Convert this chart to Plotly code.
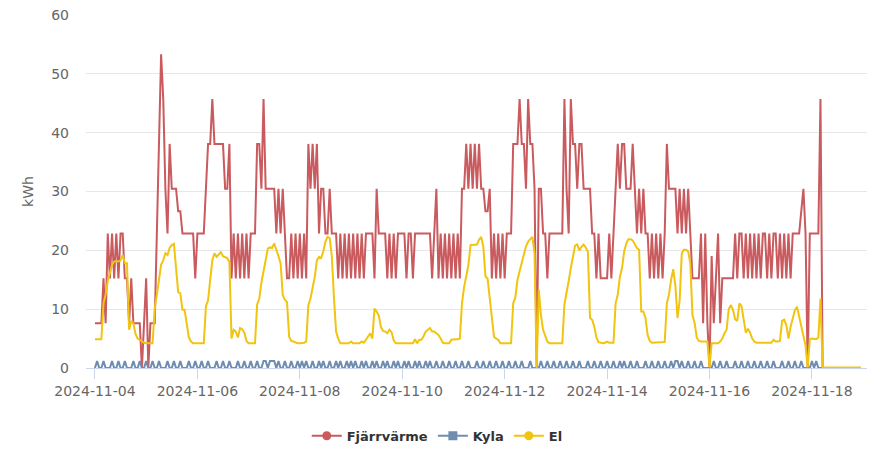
import plotly.graph_objects as go
import pandas as pd

# ---------------- data (hourly, 2024-11-04 00:00 .. 2024-11-18 23:00) ----------------
start_time = "2024-11-04 00:00"
n_hours = 360

fjarrvarme_days = [
    [7.62,7.62,7.62,7.62,15.24,7.62,22.86,15.24,22.86,15.24,22.86,15.24,22.86,22.86,15.24,15.24,7.62,15.24,7.62,7.62,7.62,7.62,0,7.62],
    [15.24,0,7.62,7.62,7.62,22.86,38.1,53.34,45.72,30.48,22.86,38.1,30.48,30.48,30.48,26.67,26.67,22.86,22.86,22.86,22.86,22.86,22.86,15.24],
    [22.86,22.86,22.86,22.86,30.48,38.1,38.1,45.72,38.1,38.1,38.1,38.1,38.1,30.48,30.48,38.1,15.24,22.86,15.24,22.86,15.24,22.86,15.24,22.86],
    [15.24,22.86,22.86,22.86,38.1,38.1,30.48,45.72,30.48,30.48,30.48,30.48,30.48,22.86,30.48,22.86,30.48,22.86,15.24,15.24,22.86,15.24,22.86,15.24],
    [22.86,15.24,22.86,15.24,38.1,30.48,38.1,30.48,38.1,22.86,30.48,30.48,22.86,22.86,30.48,22.86,22.86,22.86,15.24,22.86,15.24,22.86,15.24,22.86],
    [15.24,22.86,15.24,22.86,15.24,22.86,15.24,22.86,22.86,22.86,22.86,15.24,30.48,22.86,22.86,22.86,22.86,15.24,22.86,15.24,22.86,15.24,22.86,22.86],
    [22.86,22.86,15.24,22.86,22.86,15.24,22.86,22.86,22.86,22.86,22.86,22.86,22.86,22.86,15.24,22.86,30.48,15.24,22.86,15.24,22.86,15.24,22.86,15.24],
    [22.86,15.24,22.86,15.24,30.48,30.48,38.1,30.48,38.1,30.48,38.1,30.48,38.1,30.48,30.48,26.67,26.67,30.48,15.24,22.86,15.24,22.86,15.24,22.86],
    [15.24,22.86,22.86,22.86,38.1,38.1,38.1,45.72,38.1,38.1,30.48,45.72,38.1,38.1,30.48,0,30.48,30.48,22.86,22.86,15.24,22.86,22.86,22.86],
    [22.86,22.86,22.86,22.86,45.72,30.48,22.86,45.72,38.1,38.1,30.48,38.1,38.1,30.48,30.48,30.48,30.48,22.86,22.86,15.24,22.86,15.24,15.24,15.24],
    [15.24,22.86,15.24,22.86,30.48,38.1,30.48,38.1,38.1,30.48,30.48,30.48,38.1,30.48,22.86,30.48,22.86,30.48,22.86,22.86,15.24,22.86,15.24,22.86],
    [15.24,22.86,15.24,22.86,38.1,30.48,30.48,30.48,30.48,22.86,30.48,22.86,30.48,22.86,30.48,22.86,15.24,15.24,15.24,15.24,22.86,7.62,22.86,7.62],
    [0,19.05,7.62,15.24,22.86,7.62,15.24,15.24,15.24,15.24,15.24,15.24,22.86,15.24,22.86,22.86,15.24,22.86,15.24,22.86,15.24,22.86,15.24,22.86],
    [15.24,22.86,22.86,15.24,22.86,15.24,22.86,22.86,15.24,22.86,15.24,22.86,15.24,22.86,15.24,22.86,22.86,22.86,22.86,26.67,30.48,22.86,0,22.86],
    [22.86,22.86,22.86,22.86,45.72,0,0,0,0,0,0,0,0,0,0,0,0,0,0,0,0,0,0,0],
]

kyla_days = [
    [0,1.2,0,0,1.2,0,0,0,1.2,0,0,1.2,0,0,1.2,0,0,0,1.2,0,0,1.2,0,0],
    [1.2,0,0,1.2,0,0,1.2,0,0,0,1.2,0,0,1.2,0,0,1.2,0,0,0,1.2,0,0,1.2],
    [0,0,1.2,0,0,1.2,0,0,0,1.2,0,0,1.2,0,0,1.2,0,0,0,1.2,0,0,1.2,0],
    [0,1.2,0,0,1.2,0,0,1.2,1.2,0,1.2,1.2,1.2,0,1.2,0,0,1.2,0,0,1.2,0,0,1.2],
    [0,1.2,0,1.2,0,0,1.2,0,0,1.2,0,1.2,0,0,1.2,0,0,1.2,0,1.2,0,0,1.2,0],
    [1.2,0,1.2,0,0,1.2,0,1.2,0,0,1.2,0,1.2,0,0,1.2,0,1.2,0,0,1.2,0,1.2,0],
    [0,1.2,0,1.2,0,0,1.2,0,1.2,0,0,1.2,0,1.2,0,0,1.2,0,0,1.2,0,0,1.2,0],
    [0,1.2,0,0,1.2,0,0,1.2,0,0,0,1.2,0,0,1.2,0,0,1.2,0,0,1.2,0,0,1.2],
    [0,0,1.2,0,0,1.2,0,0,1.2,0,0,0,1.2,0,0,0,0,1.2,0,0,1.2,0,0,1.2],
    [0,0,1.2,0,0,1.2,0,0,1.2,0,0,1.2,0,0,0,1.2,0,0,1.2,0,0,1.2,0,0],
    [1.2,0,0,1.2,0,0,1.2,0,1.2,0,0,1.2,0,0,1.2,0,0,0,1.2,0,0,1.2,0,0],
    [1.2,0,0,1.2,0,0,1.2,0,1.2,1.2,0,1.2,0,0,1.2,0,0,1.2,0,0,1.2,0,0,0],
    [0,0,1.2,0,0,1.2,0,0,1.2,0,0,0,1.2,0,0,1.2,0,0,1.2,0,0,1.2,0,0],
    [1.2,0,0,1.2,0,0,1.2,0,0,0,1.2,0,0,1.2,0,0,1.2,0,0,1.2,0,0,0,0],
    [1.2,0,1.2,0,0,0,0,0,0,0,0,0,0,0,0,0,0,0,0,0,0,0,0,0],
]

el_days = [
    [4.9,4.9,4.9,4.9,11.0,12.5,14.8,16.2,17.5,18.1,18.2,18.1,18.3,19.2,17.8,17.8,6.5,8.0,7.6,5.8,5.0,4.8,4.5,4.3],
    [4.2,4.2,4.2,4.2,10.0,12.9,15.0,17.6,18.3,19.5,19.2,20.4,20.9,21.1,16.5,12.9,12.7,9.9,9.9,7.2,5.2,4.5,4.2,4.2],
    [4.2,4.2,4.2,4.2,10.5,11.5,15.0,18.3,19.5,18.9,19.3,19.7,19.0,18.8,18.7,18.0,5.0,6.5,6.2,5.2,6.8,6.6,6.0,4.6],
    [4.2,4.2,4.2,4.2,10.8,11.8,14.5,16.5,18.9,20.3,20.5,20.4,21.2,20.2,19.0,17.8,12.4,11.6,11.2,5.3,4.6,4.5,4.3,4.2],
    [4.2,4.2,4.3,4.5,10.7,11.8,13.8,15.5,18.3,18.9,18.7,19.8,21.5,22.3,22.1,19.0,12.0,6.2,5.0,4.2,4.2,4.2,4.2,4.2],
    [4.5,4.2,4.2,4.2,4.2,4.5,4.3,4.8,5.3,5.9,5.0,10.1,9.6,8.9,7.0,6.3,6.2,5.9,6.5,6.1,4.7,4.2,4.2,4.2],
    [4.2,4.2,4.2,4.2,4.3,4.2,4.9,4.2,4.8,4.8,5.4,6.2,6.5,6.8,6.2,6.2,5.9,5.6,5.0,4.3,4.2,4.2,4.2,4.8],
    [4.9,4.9,4.9,5.0,11.0,13.8,15.6,17.5,20.9,20.9,20.9,21.0,21.8,22.3,20.6,15.6,15.2,11.8,9.0,5.3,5.0,4.8,4.2,4.2],
    [4.2,4.2,4.2,4.2,11.0,12.0,15.0,16.5,18.3,19.3,20.7,21.5,21.9,22.3,19.5,0.0,13.3,9.0,6.5,5.4,4.5,4.2,4.2,4.2],
    [4.2,4.2,4.2,4.2,10.8,12.5,14.8,17.0,19.0,20.8,21.0,20.0,20.6,21.0,20.5,19.8,8.5,8.2,7.0,5.2,4.4,4.3,4.2,4.3],
    [4.5,4.3,4.3,4.3,11.0,12.5,15.5,17.0,19.8,21.2,21.9,21.9,21.7,21.0,20.4,20.1,9.6,9.6,8.5,5.6,4.6,4.3,4.3,4.3],
    [4.3,4.3,4.3,4.4,11.0,12.5,15.0,16.8,14.0,8.5,11.5,19.5,20.1,20.1,19.8,17.8,9.0,7.7,5.2,4.6,4.5,4.5,4.5,4.5],
    [0.1,4.2,4.2,4.2,4.2,4.5,5.0,5.9,6.5,10.0,10.7,9.9,8.3,8.0,11.0,10.5,8.0,6.0,6.7,6.0,5.0,4.5,4.3,4.3],
    [4.3,4.3,4.3,4.3,4.3,4.3,4.8,4.5,4.5,4.6,8.0,8.2,7.3,5.0,7.0,8.7,9.8,10.4,8.8,7.0,5.4,3.8,0.1,4.9],
    [5.0,5.0,4.9,5.2,11.8,0.1,0.1,0.1,0.1,0.1,0.1,0.1,0.1,0.1,0.1,0.1,0.1,0.1,0.1,0.1,0.1,0.1,0.1,0.1],
]

tick_dates = ["2024-11-04", "2024-11-06", "2024-11-08", "2024-11-10",
              "2024-11-12", "2024-11-14", "2024-11-16", "2024-11-18"]
y_ticks = [0, 10, 20, 30, 40, 50, 60]

series_names = ["Fjärrvärme", "Kyla", "El"]
series_colors = ["#c95a5e", "#6f8db0", "#f1c40f"]
series_symbols = ["circle", "square", "circle"]

# ---------------- build ----------------
fjarrvarme = [v for d in fjarrvarme_days for v in d]
kyla = [v for d in kyla_days for v in d]
el = [v for d in el_days for v in d]
times = pd.date_range(start_time, periods=n_hours, freq="h")

fig = go.Figure()
for name, vals, col in zip(series_names, [fjarrvarme, kyla, el], series_colors):
    fig.add_trace(go.Scatter(x=times, y=vals, mode="lines", name=name,
                             line=dict(color=col, width=2), showlegend=False))
# legend entries (line + marker symbol, as in the original legend)
for name, col, sym in zip(series_names, series_colors, series_symbols):
    fig.add_trace(go.Scatter(x=[None], y=[None], mode="lines+markers", name=name,
                             line=dict(color=col, width=2),
                             marker=dict(color=col, symbol=sym, size=9)))

font_family = "DejaVu Sans"
# the page body keeps its default 8px margin, so the figure is 8px smaller
fig.update_layout(
    width=876, height=447,
    margin=dict(l=78, r=17, t=7, b=87),
    paper_bgcolor="white", plot_bgcolor="white",
    font=dict(family=font_family, size=14, color="#666666"),
    legend=dict(orientation="h", xref="container", yref="container",
                x=0.49, xanchor="center", y=0.043, yanchor="middle",
                font=dict(family=font_family, size=13, color="#333333", weight="bold")),
    hovermode=False,
)
fig.update_xaxes(
    type="date",
    range=["2024-11-03 19:48", "2024-11-19 01:48"],
    tickvals=tick_dates, ticktext=tick_dates, tickangle=0,
    ticks="outside", ticklen=10, tickcolor="#ccd6eb", tickwidth=1,
    showline=True, linecolor="#ccd6eb", linewidth=1,
    showgrid=False, zeroline=False, automargin=False,
    ticklabeloverflow="allow",
    tickfont=dict(family=font_family, size=14, color="#666666"),
)
fig.update_yaxes(
    range=[0, 60.02], tickvals=y_ticks,
    showgrid=True, gridcolor="#e6e6e6", gridwidth=1,
    zeroline=False, showline=False, automargin=False,
    ticklabelstandoff=16, ticklabeloverflow="allow",
    tickfont=dict(family=font_family, size=14, color="#666666"),
    title=dict(text="kWh", font=dict(family=font_family, size=14, color="#666666"), standoff=14),
)

fig.write_html("out.html")
